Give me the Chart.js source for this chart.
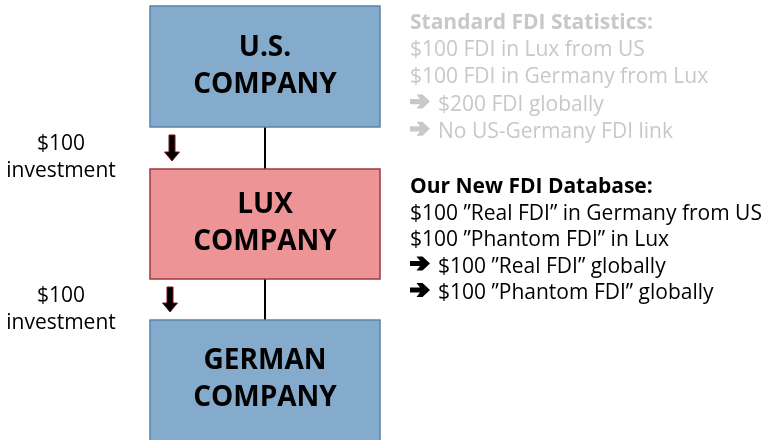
<!DOCTYPE html>
<html>
<head>
<meta charset="utf-8">
<script src="https://cdn.jsdelivr.net/npm/chart.js@4"></script>
<style>
  html, body { margin: 0; padding: 0; background: #fff; }
  #wrap { width: 775px; height: 440px; }
</style>
</head>
<body>
<div id="wrap"><canvas id="myChart" width="775" height="440"></canvas></div>
<script>
// chain of companies, top to bottom
const companies = [['U.S.', 'COMPANY'], ['LUX', 'COMPANY'], ['GERMAN', 'COMPANY']];
const companyKind = ['real', 'phantom', 'real'];
// investment passed down each link ($)
const investments = [100, 100];

const standardTitle = 'Standard FDI Statistics:';
const standardLines = ['$100 FDI in Lux from US', '$100 FDI in Germany from Lux', '\u2794 $200 FDI globally', '\u2794 No US-Germany FDI link'];
const newTitle = 'Our New FDI Database:';
const newLines = ['$100 \u201DReal FDI\u201D in Germany from US', '$100 \u201DPhantom FDI\u201D in Lux', '\u2794 $100 \u201DReal FDI\u201D globally', '\u2794 $100 \u201DPhantom FDI\u201D globally'];

const FONT = '"Open Sans", "Noto Sans", sans-serif';

const diagram = {
    id: 'diagram',
    afterDraw(chart) {
        const ctx = chart.ctx;
        const xs = chart.scales.x, ys = chart.scales.y;
        const px = v => xs.getPixelForValue(v);
        const py = v => ys.getPixelForValue(v);

        const boxLeft = 150, boxRight = 380;
        const tops = [6, 169, 320];
        const bottoms = [127, 279, 445];
        const fills = { real: '#85abcc', phantom: '#ec9496' };
        const edges = { real: '#5b83aa', phantom: '#9c3a3e' };
        const midX = (boxLeft + boxRight) / 2;

        ctx.save();
        // connectors
        ctx.strokeStyle = '#000';
        ctx.lineWidth = 2;
        for (let i = 0; i < companies.length - 1; i++) {
            ctx.beginPath();
            ctx.moveTo(px(midX), py(bottoms[i]));
            ctx.lineTo(px(midX), py(tops[i + 1]));
            ctx.stroke();
        }
        // boxes
        companies.forEach((c, i) => {
            const k = companyKind[i];
            const x0 = px(boxLeft), y0 = py(tops[i]);
            const w = px(boxRight) - x0, h = py(bottoms[i]) - y0;
            ctx.fillStyle = fills[k];
            ctx.fillRect(x0, y0, w, h);
            ctx.strokeStyle = edges[k];
            ctx.lineWidth = 1.5;
            ctx.strokeRect(x0, y0, w, h);
            ctx.fillStyle = '#000';
            ctx.font = 'bold 28px ' + FONT;
            ctx.textAlign = 'center';
            ctx.textBaseline = 'alphabetic';
            const cy = (tops[i] + Math.min(bottoms[i], 440)) / 2;
            ctx.fillText(c[0], px(midX), py(cy - 11));
            ctx.fillText(c[1], px(midX), py(cy + 26));
        });
        // arrows + labels
        const arrowX = [172, 170];
        investments.forEach((v, i) => {
            const top = bottoms[i] + 8, tip = tops[i + 1] - 8;
            const ax = px(arrowX[i]);
            const headY = py(tip - 9);
            ctx.beginPath();
            ctx.moveTo(ax - 3, py(top));
            ctx.lineTo(ax + 3, py(top));
            ctx.lineTo(ax + 3, headY);
            ctx.lineTo(ax + 7.5, headY);
            ctx.lineTo(ax, py(tip));
            ctx.lineTo(ax - 7.5, headY);
            ctx.lineTo(ax - 3, headY);
            ctx.closePath();
            ctx.fillStyle = '#000';
            ctx.fill();
            ctx.strokeStyle = '#7a1418';
            ctx.lineWidth = 1;
            ctx.stroke();

            const my = (bottoms[i] + tops[i + 1]) / 2;
            ctx.fillStyle = '#000';
            ctx.font = '21px ' + FONT;
            ctx.textAlign = 'center';
            ctx.fillText('$' + v, px(61), py(my + 2));
            ctx.fillText('investment', px(61), py(my + 29));
        });
        // bullet arrow like the Wingdings one
        const bullet = (x, base) => {
            const c = base - 9;
            const pts = [[0, -2.6], [10, -2.6], [6.5, -7], [12.5, -7], [20, 0], [12.5, 7], [6.5, 7], [10, 2.6], [0, 2.6]];
            ctx.beginPath();
            pts.forEach(([dx, dy], k) => {
                const X = px(x + dx), Y = py(c + dy);
                if (k === 0) ctx.moveTo(X, Y); else ctx.lineTo(X, Y);
            });
            ctx.closePath();
            ctx.fill();
        };
        // text blocks; a leading arrow is drawn as a shape, text continues after it
        const block = (title, lines, color, y0, step) => {
            ctx.textAlign = 'left';
            ctx.fillStyle = color;
            ctx.font = 'bold 21px ' + FONT;
            ctx.fillText(title, px(410), py(y0));
            lines.forEach((t, j) => {
                const base = y0 + step * (j + 1);
                ctx.font = '21px ' + FONT;
                if (t.startsWith('\u2794')) {
                    bullet(410, base);
                    ctx.fillText(t.slice(2), px(438), py(base));
                } else {
                    ctx.fillText(t, px(410), py(base));
                }
            });
        };
        block(standardTitle, standardLines, '#c8c8c8', 29, 27.2);
        block(newTitle, newLines, '#000', 193, 26.5);
        ctx.restore();
    }
};

const ctx = document.getElementById('myChart').getContext('2d');
const myChart = new Chart(ctx, {
    type: 'scatter',
    data: { datasets: [{ data: [], showLine: false }] },
    options: {
        responsive: false,
        animation: false,
        layout: { padding: 0 },
        scales: {
            x: { type: 'linear', min: 0, max: 775, display: false },
            y: { type: 'linear', min: 0, max: 440, reverse: true, display: false }
        },
        plugins: { legend: { display: false }, tooltip: { enabled: false } }
    },
    plugins: [diagram]
});
</script>
</body>
</html>
